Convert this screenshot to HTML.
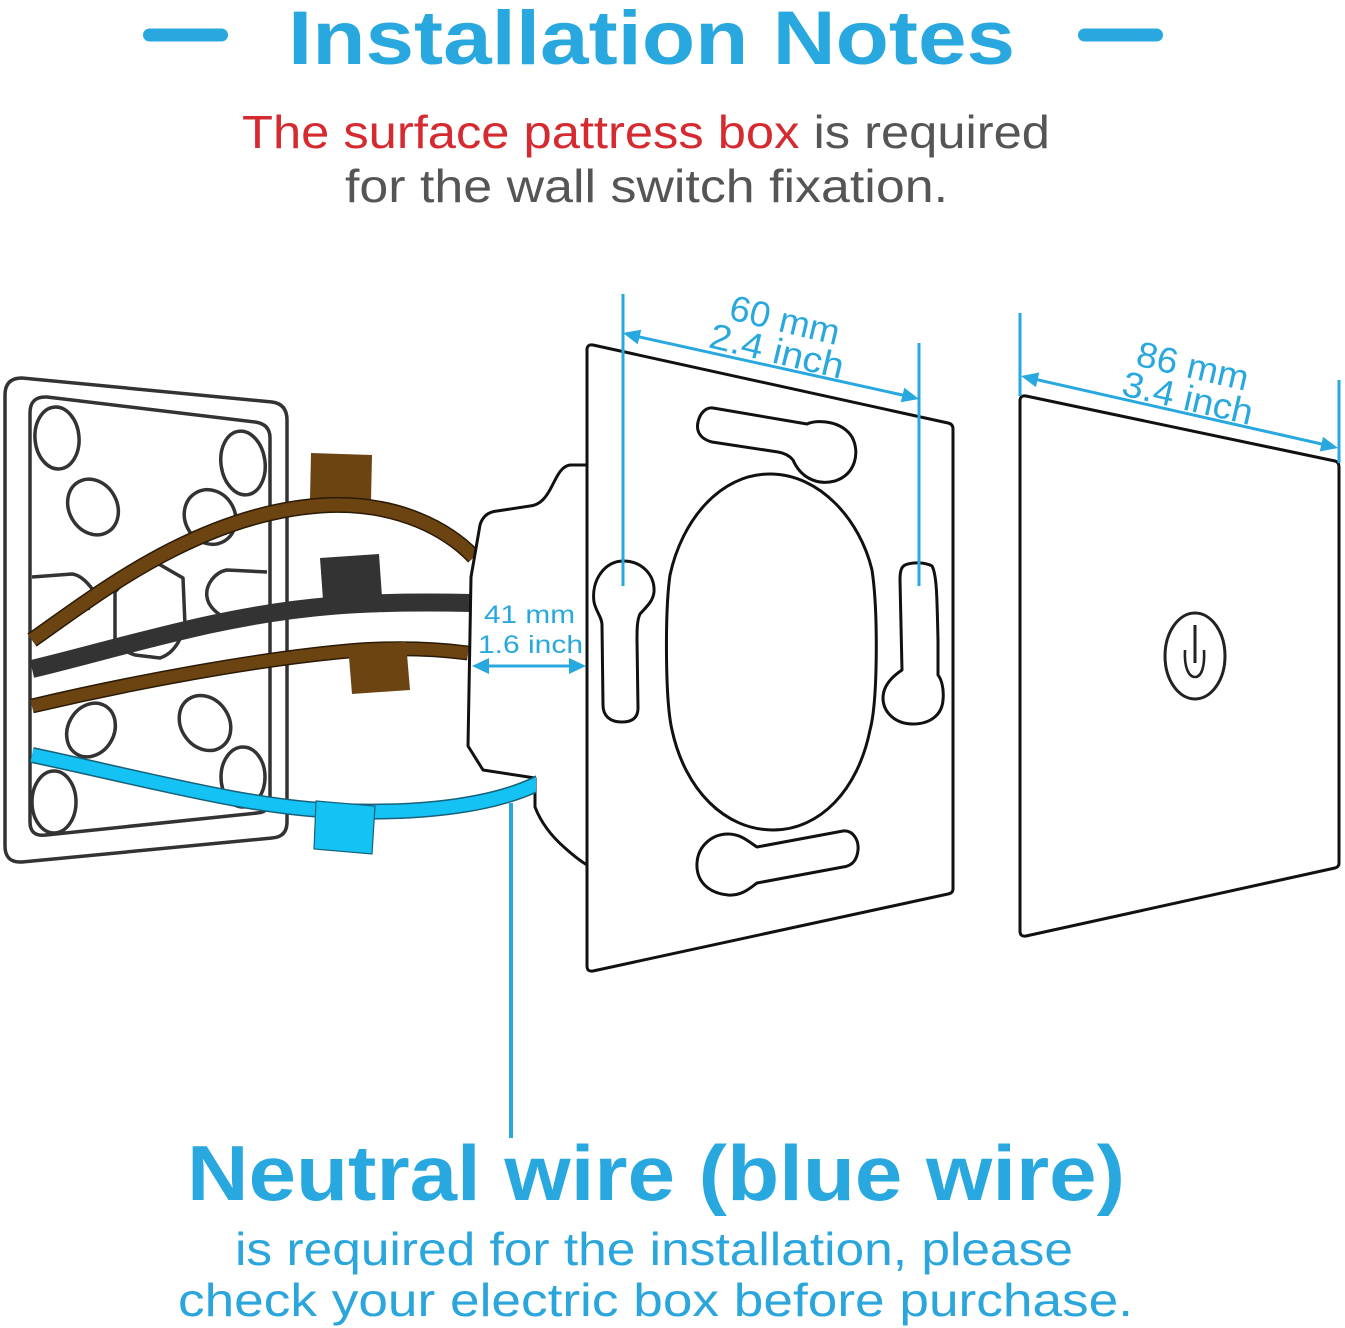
<!DOCTYPE html>
<html>
<head>
<meta charset="utf-8">
<style>
  html, body { margin: 0; padding: 0; background: #ffffff; }
  svg { display: block; }
  text { font-family: "Liberation Sans", "DejaVu Sans", sans-serif; }
</style>
</head>
<body>
<svg width="1345" height="1328" viewBox="0 0 1345 1328" xmlns="http://www.w3.org/2000/svg">
  <defs>
    <clipPath id="wireclip">
      <rect x="0" y="700" width="536" height="200"/>
    </clipPath>
  </defs>
  <rect width="1345" height="1328" fill="#ffffff"/>

  <!-- Title dashes -->
  <line x1="149.5" y1="35" x2="221.5" y2="35" stroke="#29a8df" stroke-width="13" stroke-linecap="round"/>
  <line x1="1084.5" y1="35" x2="1156.5" y2="35" stroke="#29a8df" stroke-width="13" stroke-linecap="round"/>

  <!-- Title -->
  <text x="288" y="64" font-size="76" font-weight="bold" fill="#29a8df" textLength="727" lengthAdjust="spacingAndGlyphs">Installation Notes</text>

  <!-- Subtitle -->
  <text x="242" y="148" font-size="46" textLength="808" lengthAdjust="spacingAndGlyphs"><tspan fill="#d52b30">The surface pattress box</tspan><tspan fill="#555555"> is required</tspan></text>
  <text x="345" y="202" font-size="46" fill="#555555" textLength="603" lengthAdjust="spacingAndGlyphs">for the wall switch fixation.</text>

  <!-- ===== Pattress box ===== -->
  <g stroke="#333333" stroke-width="3.5" fill="#ffffff" stroke-linejoin="round">
    <path d="M5,395 Q5,378 22,378 L272,402 Q287,404 287,420 L287,822 Q287,837 272,838 L22,862 Q5,863 5,846 Z"/>
    <path d="M30,413 Q30,396 47,397 L255,422 Q270,424 270,438 L270,800 Q270,812 257,813 L46,835 Q30,837 30,822 Z"/>
    <ellipse cx="57" cy="438" rx="22" ry="31" transform="rotate(-5 57 438)"/>
    <ellipse cx="93" cy="507" rx="24" ry="29" transform="rotate(-30 93 507)"/>
    <ellipse cx="243" cy="463" rx="22" ry="32" transform="rotate(-8 243 463)"/>
    <ellipse cx="210" cy="517" rx="25" ry="28" transform="rotate(-30 210 517)"/>
    <ellipse cx="91" cy="730" rx="23" ry="28" transform="rotate(30 91 730)"/>
    <ellipse cx="205" cy="723" rx="24" ry="29" transform="rotate(-35 205 723)"/>
    <ellipse cx="243" cy="777" rx="22" ry="30"/>
    <ellipse cx="54" cy="802" rx="22" ry="31"/>
    <path d="M32,577 L72,574 Q82,575 93,590 L88,610" fill="none"/>
    <path d="M115,592 L115,640 Q120,650 135,655 L160,658 Q178,652 185,625 L183,578 L157,563 L135,570 Z"/>
    <path d="M267,572 L227,570 C215,572 205,585 207,597 C208,605 215,612 222,616" fill="none"/>
  </g>

  <!-- tags behind wires -->
  <polygon points="311,453 372,455 371,501 310,499" fill="#6b4411"/>
  <polygon points="320,558 379,554 382,597 323,600" fill="#333333"/>

  <!-- upper brown wire -->
  <path d="M32,640 C90,600 200,510 330,505 C400,503 448,530 474,557" fill="none" stroke="#2a1a06" stroke-width="16"/>
  <path d="M32,640 C90,600 200,510 330,505 C400,503 448,530 474,557" fill="none" stroke="#6b4411" stroke-width="13"/>
  <!-- black wire -->
  <path d="M32,669 C120,648 220,615 330,606 C380,602 430,602 472,603" fill="none" stroke="#333333" stroke-width="18"/>
  <!-- lower brown wire -->
  <path d="M32,706 C130,683 260,658 360,650 C410,647 445,650 468,653" fill="none" stroke="#2a1a06" stroke-width="15"/>
  <path d="M32,706 C130,683 260,658 360,650 C410,647 445,650 468,653" fill="none" stroke="#6b4411" stroke-width="12"/>
  <polygon points="348,645 406,642 410,690 352,694" fill="#6b4411"/>

  <!-- switch body behind plate -->
  <path d="M587,465 L570,465 C562,466 558,474 552,486 C546,498 540,505 530,506 L497,511 C487,512 482,518 480,525 L471,577 L468,746 L483,770 L535,778 L535,807 C540,820 550,835 565,848 C575,857 582,862 587,865 Z"
        fill="#ffffff" stroke="#111111" stroke-width="3" stroke-linejoin="round"/>

  <!-- blue wire -->
  <g clip-path="url(#wireclip)">
    <path d="M32,755 C150,780 250,808 340,811 C420,814 500,806 548,778" fill="none" stroke="#17617a" stroke-width="16"/>
    <path d="M32,755 C150,780 250,808 340,811 C420,814 500,806 548,778" fill="none" stroke="#14c3f3" stroke-width="13"/>
  </g>
  <polygon points="316,801 375,806 372,854 314,849" fill="#14c3f3" stroke="#17617a" stroke-width="1.2"/>

  <!-- blue leader line -->
  <line x1="511" y1="803" x2="511" y2="1138" stroke="#29a8df" stroke-width="4"/>

  <!-- ===== Middle mounting plate ===== -->
  <g fill="#ffffff" stroke="#111111" stroke-width="3" stroke-linejoin="round">
    <path d="M587,350 Q587,344 593,345 L948,423 Q953,424 953,429 L953,889 Q953,893 948,894 L593,971 Q587,972 587,966 Z"/>
    <path d="M770,474 C820,474 860,520 872,570 C878,610 878,700 870,730 C858,790 820,830 773,830 C725,830 685,790 672,730 C665,700 665,610 670,575 C682,520 720,474 770,474 Z"/>
    <path d="M713,408 L807,424 C818,419 842,421 852,437 C860,452 856,474 835,481 C815,486 800,476 793,460 C789,455 784,453 778,452 L712,442 C700,439 696,431 698,422 C700,413 706,407 713,408 Z"/>
    <path d="M757,847 L843,831 C853,830 859,840 858,850 C857,860 852,866 843,867 L757,883 C750,888 742,896 728,895 C707,893 696,880 697,863 C698,846 712,834 728,834 C742,834 750,843 757,847 Z"/>
    <path d="M623,561 C642,561 655,575 654,592 C653,602 645,608 640,614 C637,620 637,630 637,640 L638,708 C638,718 632,722 622,722 C610,722 603,716 603,705 L602,625 C602,617 596,612 594,602 C591,580 605,561 623,561 Z"/>
    <path d="M905,565 C912,562 925,562 932,566 C937,575 937,600 938,640 L938,675 C942,680 944,690 943,700 C942,715 930,724 913,724 C895,724 883,712 883,698 C883,685 893,676 902,670 L900,580 C900,572 901,567 905,565 Z"/>
  </g>

  <!-- 60 mm dimension -->
  <g stroke="#29a8df" stroke-width="3">
    <line x1="623" y1="294" x2="623" y2="586"/>
    <line x1="919" y1="343" x2="919" y2="586"/>
    <line x1="635" y1="336" x2="907" y2="396"/>
  </g>
  <polygon points="623,333 637.7,344.3 641.3,329.7" fill="#29a8df"/>
  <polygon points="919,399 900.7,402.3 904.3,387.7" fill="#29a8df"/>
  <text x="782" y="332" font-size="36" fill="#29a8df" text-anchor="middle" textLength="112" lengthAdjust="spacingAndGlyphs" transform="rotate(13.5 782 332)">60 mm</text>
  <text x="774" y="363" font-size="36" fill="#29a8df" text-anchor="middle" textLength="137" lengthAdjust="spacingAndGlyphs" transform="rotate(13.5 774 363)">2.4 inch</text>

  <!-- 41 mm dimension -->
  <line x1="484" y1="666" x2="574" y2="666" stroke="#29a8df" stroke-width="3"/>
  <polygon points="472,666 489,658 489,674" fill="#29a8df"/>
  <polygon points="586,666 569,658 569,674" fill="#29a8df"/>
  <text x="484" y="623" font-size="25" fill="#29a8df" textLength="91" lengthAdjust="spacingAndGlyphs">41 mm</text>
  <text x="478" y="653" font-size="25" fill="#29a8df" textLength="105" lengthAdjust="spacingAndGlyphs">1.6 inch</text>

  <!-- ===== Right front panel ===== -->
  <path d="M1020,401 Q1020,395 1026,396 L1335,461 Q1339,462 1339,467 L1339,863 Q1339,867 1335,868 L1026,936 Q1020,937 1020,931 Z"
        fill="#ffffff" stroke="#111111" stroke-width="3" stroke-linejoin="round"/>
  <ellipse cx="1195" cy="656" rx="30" ry="43" fill="none" stroke="#222222" stroke-width="3"/>
  <line x1="1195" y1="625" x2="1195" y2="663" stroke="#222222" stroke-width="3"/>
  <path d="M1185,650 C1184,668 1189,677 1195,677 C1201,677 1205,668 1204,650" fill="none" stroke="#222222" stroke-width="2.6"/>

  <!-- 86 mm dimension -->
  <g stroke="#29a8df" stroke-width="3">
    <line x1="1020" y1="313" x2="1020" y2="396"/>
    <line x1="1339" y1="380" x2="1339" y2="463"/>
    <line x1="1034" y1="379" x2="1326" y2="445"/>
  </g>
  <polygon points="1021,376 1035.9,387.1 1039.3,372.5" fill="#29a8df"/>
  <polygon points="1338,448 1319.7,451.5 1323.1,436.9" fill="#29a8df"/>
  <text x="1190" y="378" font-size="36" fill="#29a8df" text-anchor="middle" textLength="114" lengthAdjust="spacingAndGlyphs" transform="rotate(13 1190 378)">86 mm</text>
  <text x="1185" y="410" font-size="36" fill="#29a8df" text-anchor="middle" textLength="133" lengthAdjust="spacingAndGlyphs" transform="rotate(13 1185 410)">3.4 inch</text>

  <!-- Bottom text -->
  <text x="187" y="1200" font-size="78" font-weight="bold" fill="#29a8df" textLength="938" lengthAdjust="spacingAndGlyphs">Neutral wire (blue wire)</text>
  <text x="235" y="1265" font-size="46" fill="#2aa6dc" textLength="838" lengthAdjust="spacingAndGlyphs">is required for the installation, please</text>
  <text x="178" y="1316" font-size="46" fill="#2aa6dc" textLength="955" lengthAdjust="spacingAndGlyphs">check your electric box before purchase.</text>
</svg>
</body>
</html>
